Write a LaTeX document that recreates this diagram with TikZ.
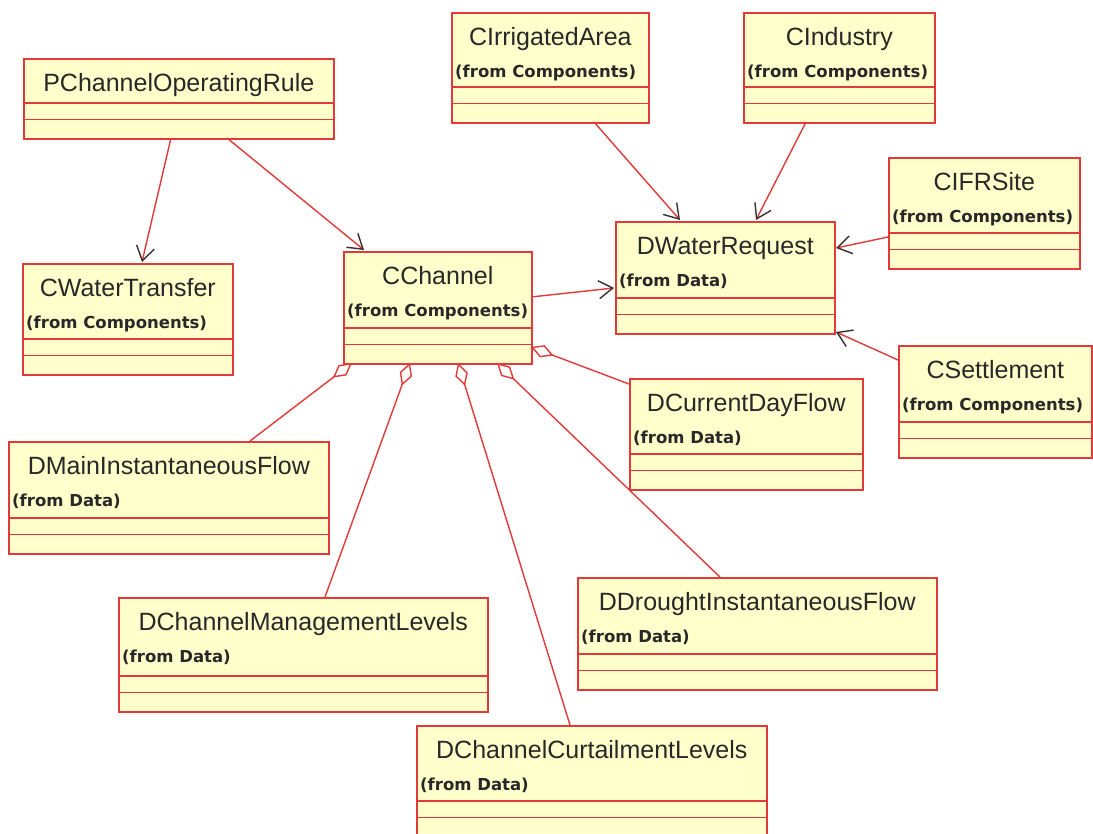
\documentclass[tikz,border=0pt]{standalone}
\usepackage{fontspec}
\usetikzlibrary{calc,arrows.meta}
\newfontfamily\classnamefont{Liberation Sans}
\newfontfamily\packagefont{DejaVu Sans}

\definecolor{umlred}{RGB}{226,58,58}
\definecolor{umlfill}{RGB}{255,255,204}
\definecolor{umltext}{RGB}{40,40,40}
\definecolor{tipgray}{RGB}{60,45,45}

\tikzset{
  classbox/.style={rectangle, draw=umlred, fill=umlfill, line width=1.6pt,
    inner sep=0pt, anchor=north west},
  classline/.style={draw=umlred, line width=1.6pt},
  titletext/.style={anchor=base, inner sep=0pt, text=umltext,
    font=\classnamefont\fontsize{25}{30}\selectfont},
  fromtext/.style={anchor=base west, inner sep=0pt, text=umltext,
    font=\packagefont\bfseries\fontsize{16.5}{20}\selectfont},
  assoc/.style={draw=umlred, line width=1.4pt,
    -{Straight Barb[length=14pt,width=18pt,line width=1.4pt,color=tipgray]}},
  aggr/.style={draw=umlred, line width=1.4pt,
    {Diamond[open,length=24pt,width=13pt,line width=1.4pt]}-},
}

% class box: name, left, top, right, bottom, class name, package note
\newcommand\umlclass[7]{%
  \node[classbox, minimum width={(#4-#2)*1pt}, minimum height={(#5-#3)*1pt}] (#1) at (#2,#3) {};
  \draw[classline] ($(#1.south west)+(0,-36.5)$) -- ($(#1.south east)+(0,-36.5)$);
  \draw[classline] ($(#1.south west)+(0,-20)$) -- ($(#1.south east)+(0,-20)$);
  \node[titletext] (#1-name) at ($(#1.north)+(0,33.5)$) {#6};
  \if\relax\detokenize{#7}\relax\else
    \node[fromtext] (#1-pkg) at ($(#1.north west)+(4,65.5)$) {#7};
  \fi
}

\begin{document}
\begin{tikzpicture}[x=1pt,y=-1pt]
  \clip (0,0) rectangle (1093,834);
  \fill[white] (0,0) rectangle (1093,834);

  \umlclass{pcor}{23}{58}{333}{138}{PChannelOperatingRule}{}
  \umlclass{ia}{451}{12}{648}{122}{CIrrigatedArea}{(from Components)}
  \umlclass{ind}{743}{12}{934}{122}{CIndustry}{(from Components)}
  \umlclass{ifr}{888}{157}{1079}{268}{CIFRSite}{(from Components)}
  \umlclass{wr}{615}{221}{834}{333}{DWaterRequest}{(from Data)}
  \umlclass{ch}{343}{251}{531}{363}{CChannel}{(from Components)}
  \umlclass{wt}{22}{263}{232}{374}{CWaterTransfer}{(from Components)}
  \umlclass{set}{898}{345}{1091}{457}{CSettlement}{(from Components)}
  \umlclass{cdf}{629}{378}{862}{489}{DCurrentDayFlow}{(from Data)}
  \umlclass{mif}{8}{441}{328}{553}{DMainInstantaneousFlow}{(from Data)}
  \umlclass{cml}{118}{597}{487}{711}{DChannelManagementLevels}{(from Data)}
  \umlclass{dif}{577}{577}{936}{689}{DDroughtInstantaneousFlow}{(from Data)}
  \umlclass{ccl}{416}{725}{766}{836}{DChannelCurtailmentLevels}{(from Data)}

  % navigable associations
  \draw[assoc] ($(pcor.north west)+(148,80)$) -- ($(wt.north west)+(120,-1)$);
  \draw[assoc] ($(pcor.north west)+(204,80)$) -- ($(ch.north west)+(21,-1)$);
  \draw[assoc] ($(ia.north west)+(143,110)$) -- ($(wr.north west)+(65,-1)$);
  \draw[assoc] ($(ind.north west)+(63,110)$) -- ($(wr.north west)+(141,-1)$);
  \draw[assoc] ($(ifr.north west)+(0,80)$) -- ($(wr.north west)+(221,27)$);
  \draw[assoc] ($(set.north west)+(0,15)$) -- ($(wr.north west)+(221,111)$);
  \draw[assoc] ($(ch.north west)+(188,46)$) -- ($(wr.north west)+(-1,67)$);

  % aggregations owned by CChannel
  \draw[aggr] ($(ch.north west)+(9,112)$) -- ($(mif.north west)+(242,0)$);
  \draw[aggr] ($(ch.north west)+(67,112)$) -- ($(cml.north west)+(207,0)$);
  \draw[aggr] ($(ch.north west)+(115,112)$) -- ($(ccl.north west)+(154,0)$);
  \draw[aggr] ($(ch.north west)+(154,112)$) -- ($(dif.north west)+(143,0)$);
  \draw[aggr] ($(ch.north west)+(188,96)$) -- ($(cdf.north west)+(0,6)$);
\end{tikzpicture}
\end{document}
